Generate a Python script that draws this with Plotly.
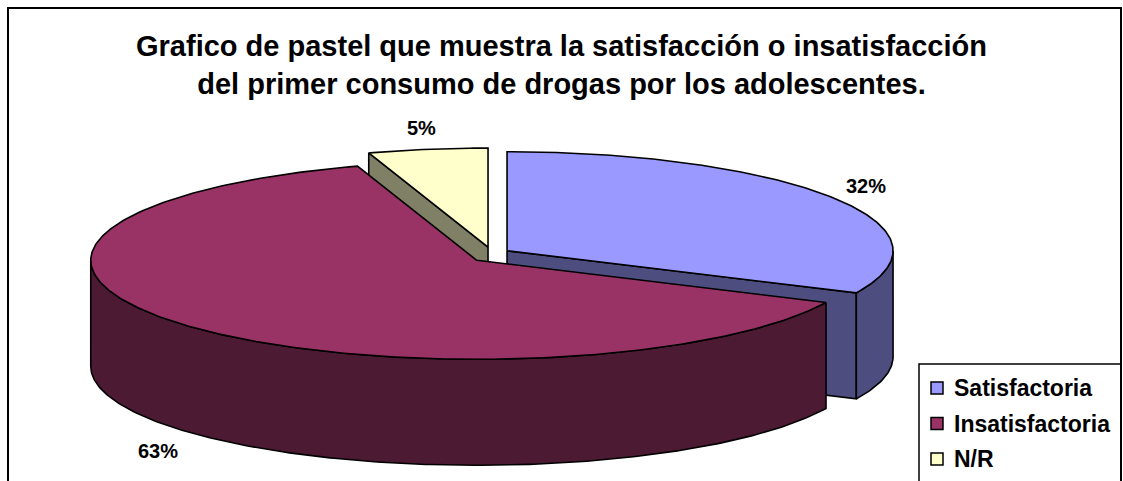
import numpy as np
import plotly.graph_objects as go

# Survey result: satisfaction with first drug use among adolescents (percent)
categories = ["Satisfactoria", "Insatisfactoria", "N/R"]
values = [32, 63, 5]
top_colors = ["#9999FF", "#993366", "#FFFFCC"]
side_colors = ["#4D4D80", "#4D1A33", "#808066"]
title_lines = [
    "Grafico de pastel que muestra la satisfacción o insatisfacción",
    "del primer consumo de drogas por los adolescentes.",
]

W, H = 1123, 481
FONT = "Liberation Sans, Arial, sans-serif"

# Projection of the tilted pie (pixel units on hidden axes)
CX, CY = 491, 255          # pie centre
RX, RY = 386, 99           # ellipse radii of the top face
DEPTH = 106                # thickness of the pie
EXPLODE_X, EXPLODE_Y = 19, 8
OUTLINE = dict(color="black", width=1.6)

# legend box placement
LEG_X0, LEG_Y0 = 919, 364
LEG_ROW0, LEG_ROW_STEP = 388, 35.5
LEG_KEY_X, LEG_TEXT_X = 937, 952


def rim(theta, ox, oy, drop=0.0):
    t = np.radians(theta)
    return ox + RX * np.sin(t), oy - RY * np.cos(t) + drop


def arc(a, b, ox, oy, drop=0.0):
    n = max(int(abs(b - a) * 1.5), 4)
    th = np.linspace(a, b, n)
    return rim(th, ox, oy, drop)


total = float(sum(values))
starts = np.cumsum([0] + values[:-1]) / total * 360.0
ends = np.cumsum(values) / total * 360.0

slices = []
for i, (a, b) in enumerate(zip(starts, ends)):
    mid = np.radians((a + b) / 2)
    ox = CX + EXPLODE_X * np.sin(mid)
    oy = CY - EXPLODE_Y * np.cos(mid)
    slices.append(dict(i=i, a=a, b=b, mid=mid, ox=ox, oy=oy))

fig = go.Figure()


def add_poly(xs, ys, color):
    fig.add_trace(go.Scatter(
        x=list(xs) + [xs[0]], y=list(ys) + [ys[0]],
        mode="lines", fill="toself", fillcolor=color,
        line=OUTLINE, hoverinfo="skip", showlegend=False,
    ))


# paint from back to front
for s in sorted(slices, key=lambda s: -np.cos(s["mid"])):
    i, a, b, ox, oy = s["i"], s["a"], s["b"], s["ox"], s["oy"]
    # radial cut faces facing the viewer
    for ang, visible in ((a, np.sin(np.radians(a)) < -1e-9),
                         (b, np.sin(np.radians(b)) > 1e-9)):
        if visible:
            ex, ey = rim(ang, ox, oy)
            add_poly([ox, ex, ex, ox], [oy, ey, ey + DEPTH, oy + DEPTH],
                     side_colors[i])
    # outer wall on the front half
    s0, s1 = max(a, 90.0), min(b, 270.0)
    if s1 > s0:
        tx, ty = arc(s0, s1, ox, oy)
        bx, by = arc(s1, s0, ox, oy, DEPTH)
        add_poly(np.concatenate([tx, bx]), np.concatenate([ty, by]),
                 side_colors[i])
    # top face
    tx, ty = arc(a, b, ox, oy)
    add_poly(np.concatenate([[ox], tx]), np.concatenate([[oy], ty]),
             top_colors[i])

# percentage labels outside each slice
for s in slices:
    c = np.cos(s["mid"])
    lx = CX + 1.15 * RX * np.sin(s["mid"])
    ly = CY - 1.3 * RY * c + (DEPTH + 5 if c < 0 else 0)
    fig.add_annotation(x=lx, y=ly, text=f"{values[s['i']]}%", showarrow=False,
                       font=dict(family=FONT, size=20, color="black", weight="bold"))

# chart-area frame and legend box
fig.add_shape(type="rect", xref="x", yref="y", x0=8, y0=8, x1=1121, y1=H + 20,
              line=dict(color="black", width=2), fillcolor="rgba(0,0,0,0)")
fig.add_shape(type="rect", xref="x", yref="y", x0=LEG_X0, y0=LEG_Y0, x1=1121,
              y1=H + 20, line=dict(color="black", width=1.5),
              fillcolor="rgba(0,0,0,0)", layer="above")

rows = [LEG_ROW0 + k * LEG_ROW_STEP for k in range(len(categories))]
fig.add_trace(go.Scatter(
    x=[LEG_KEY_X] * len(categories), y=rows, mode="markers",
    marker=dict(symbol="square", size=12, color=top_colors,
                line=dict(color="black", width=1.5)),
    hoverinfo="skip", showlegend=False,
))
for name, yy in zip(categories, rows):
    fig.add_annotation(x=LEG_TEXT_X, y=yy, text=name, showarrow=False,
                       xanchor="left", yanchor="middle",
                       font=dict(family=FONT, size=23, color="black", weight="bold"))

fig.update_layout(
    width=W, height=H, autosize=False,
    margin=dict(l=0, r=0, t=0, b=0, pad=0),
    paper_bgcolor="white", plot_bgcolor="white",
    xaxis=dict(range=[0, W], visible=False, fixedrange=True),
    yaxis=dict(range=[H, 0], visible=False, fixedrange=True),
    title=dict(text="<br>".join(title_lines), x=0.5, xanchor="center",
               xref="paper", y=1 - 56 / H, yref="container", yanchor="top",
               font=dict(family=FONT, size=29, color="black", weight="bold")),
    showlegend=False,
)

fig.write_html("out.html")
